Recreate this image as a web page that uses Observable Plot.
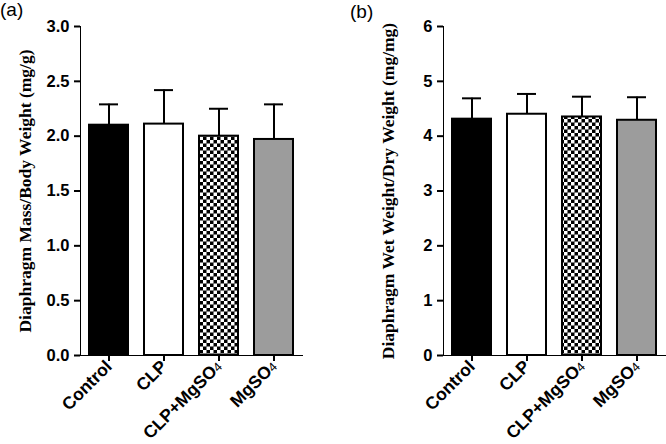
<!DOCTYPE html>
<html><head><meta charset="utf-8">
<script src="https://cdn.jsdelivr.net/npm/d3@7"></script>
<script src="https://cdn.jsdelivr.net/npm/@observablehq/plot@0.6"></script>
<style>
body{margin:0;background:#fff;}
#wrap{position:relative;width:666px;height:444px;display:flex;}
.plab{position:absolute;font-family:"Liberation Sans",Arial,sans-serif;font-size:19px;color:#000;}
g[aria-label^="x-axis"] line, g[aria-label^="y-axis"] line, g[aria-label^="x-axis"] path, g[aria-label^="y-axis"] path {stroke-width:2px;}
g[aria-label^="x-axis"] text {font-size:17.5px;}
g[aria-label^="y-axis"] text {font-size:16.5px;}
</style>
</head><body><div id="wrap"><div class="plab" style="left:0;top:-1px">(a)</div><div class="plab" style="left:350px;top:1px">(b)</div></div>
<script>
const groups = ["Control", "CLP", "CLP+MgSO4", "MgSO4"];
const massMean = [2.10, 2.11, 2.00, 1.97];
const massErr = [0.19, 0.31, 0.25, 0.32];
const massTicks = [0, 0.5, 1, 1.5, 2, 2.5, 3];
const wetMean = [4.31, 4.40, 4.35, 4.29];
const wetErr = [0.38, 0.37, 0.37, 0.42];
const wetTicks = [0, 1, 2, 3, 4, 5, 6];
const titleA = "Diaphragm Mass/Body Weight (mg/g)";
const titleB = "Diaphragm Wet Weight/Dry Weight (mg/mg)";

function panel(means, errs, ticks, fmt, title, ml, mr, pid) {
  const rows = groups.map((g, i) => ({g, m: means[i], top: means[i] + errs[i]}));
  const svg = Plot.plot({
    width: 333, height: 444,
    marginLeft: ml, marginRight: mr, marginTop: 26, marginBottom: 89,
    style: {fontFamily: '"Liberation Sans", Arial, sans-serif', fontSize: "15px", fontWeight: "bold", color: "#000", background: "#fff"},
    x: {domain: groups, paddingInner: 0.29, paddingOuter: 0.16, tickRotate: -45, tickSize: 6, tickPadding: 2, line: true, label: null},
    y: {domain: [ticks[0], ticks[ticks.length - 1]], ticks, tickFormat: fmt, tickSize: 6, tickPadding: 5, line: true, label: null},
    color: {type: "ordinal", domain: groups, range: ["#000000", "#ffffff", `url(#${pid})`, "#9c9c9c"]},
    marks: [
      Plot.ruleX(rows, {x: "g", y1: "m", y2: "top", strokeWidth: 2}),
      Plot.tickY(rows, {x: "g", y: "top", inset: 10, strokeWidth: 2}),
      Plot.barY(rows, {x: "g", y: "m", fill: "g", stroke: "#000", strokeWidth: 2}),
      Plot.text([title], {frameAnchor: "left", rotate: -90, dx: -55, text: d => d, fill: "#000", textAnchor: "middle", lineAnchor: "middle",
        fontFamily: '"Liberation Serif", "Times New Roman", serif', fontSize: 17.5, fontWeight: "bold"})
    ]
  });
  const s = d3.select(svg);
  const defs = s.insert("defs", ":first-child");
  const p = defs.append("pattern").attr("id", pid).attr("patternUnits", "userSpaceOnUse").attr("width", 7).attr("height", 7);
  p.append("rect").attr("width", 7).attr("height", 7).attr("fill", "#000");
  p.append("rect").attr("width", 3.5).attr("height", 3.5).attr("fill", "#fff");
  p.append("rect").attr("x", 3.5).attr("y", 3.5).attr("width", 3.5).attr("height", 3.5).attr("fill", "#fff");
  s.selectAll('g[aria-label^="x-axis"] text').each(function () {
    const t = this.textContent;
    if (t.endsWith("4")) {
      const e = d3.select(this);
      e.text(null);
      e.append("tspan").text(t.slice(0, -1));
      e.append("tspan").attr("font-size", 12.5).attr("font-weight", "normal").text("4");
    }
  });
  return svg;
}

const wrap = document.getElementById("wrap");
wrap.appendChild(panel(massMean, massErr, massTicks, d3.format(".1f"), titleA, 80, 31, "checkA"));
wrap.appendChild(panel(wetMean, wetErr, wetTicks, d3.format("d"), titleB, 110, 1, "checkB"));
</script>
</body></html>
